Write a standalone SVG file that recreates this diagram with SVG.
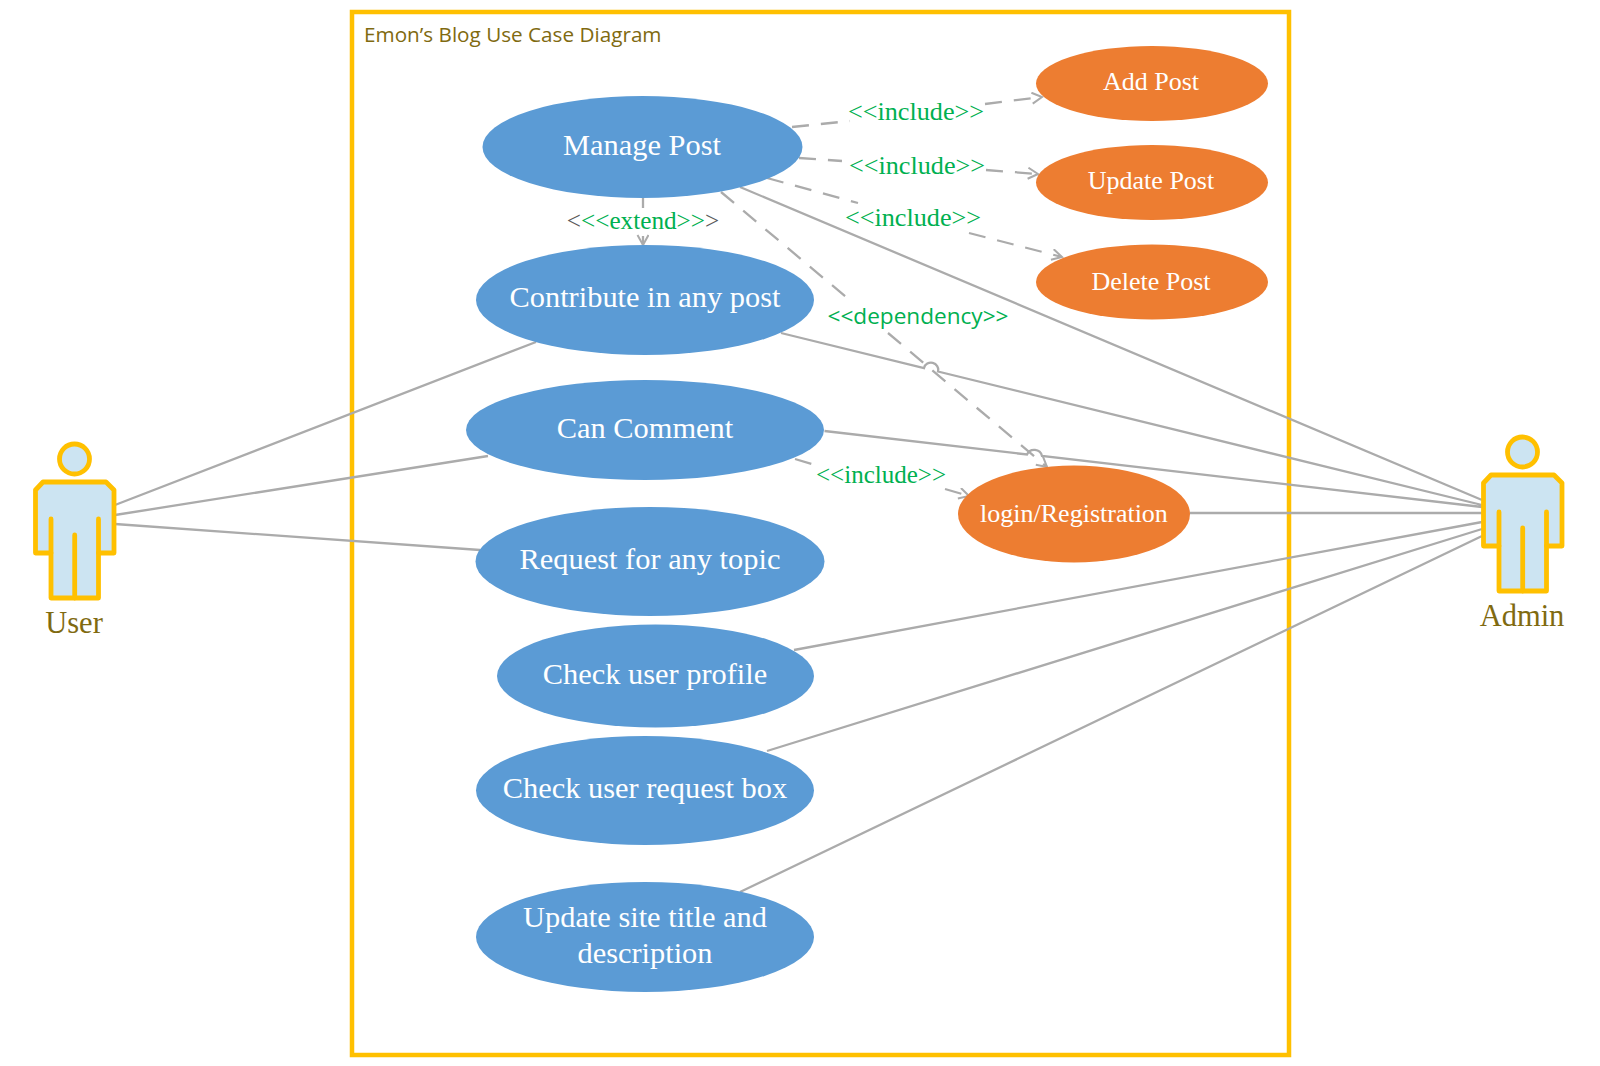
<svg xmlns="http://www.w3.org/2000/svg" width="1600" height="1066" viewBox="0 0 1600 1066">
<style>
.blue{fill:#5B9BD5}.org{fill:#ED7D31}
.ut{font-family:"Liberation Serif",serif;font-size:30.4px;fill:#fff;text-anchor:middle}
.ot{font-family:"Liberation Serif",serif;font-size:26px;fill:#fff;text-anchor:middle}
.lbl{font-family:"Liberation Serif",serif;font-size:26.2px;fill:#00B050;text-anchor:middle}
.act{font-family:"Liberation Serif",serif;font-size:30.5px;fill:#806A10;text-anchor:middle}
.ln{fill:none;stroke:#ABABAB;stroke-width:2.3}
.ds{fill:none;stroke:#ABABAB;stroke-width:2.3;stroke-dasharray:17 12}
.fig{fill:#CCE4F2;stroke:#FFC000;stroke-width:4.8;stroke-linejoin:round;stroke-linecap:round}
</style>
<defs>
<marker id="arr" markerWidth="14" markerHeight="14" refX="11" refY="6" orient="auto" markerUnits="userSpaceOnUse"><path d="M1,0.5 L11,6 L1,11.5" fill="none" stroke="#ABABAB" stroke-width="2"/></marker>
<g id="person"><circle cx="74.5" cy="459" r="15" class="fig"/><path class="fig" d="M43,482 L106,482 L114,490 L114,553 L98.5,553 L98.5,598 L51,598 L51,553 L35.5,553 L35.5,490 Z"/><path class="fig" d="M51,519 V553 M98.5,519 V553 M74.7,535 V598" fill="none"/></g>
</defs>
<rect width="1600" height="1066" fill="#fff"/>
<g id="boundary"><rect x="352" y="12" width="937" height="1043" fill="none" stroke="#FFC000" stroke-width="4.5"/><text x="364" y="42" font-family="Open Sans,sans-serif" font-size="20.7" fill="#806A10">Emon’s Blog Use Case Diagram</text></g>
<g id="connectors">
<path class="ln" d="M115,505 L536,342 M115,515 L488,456 M115,524 L480,550"/>
<path class="ln" d="M740,187 L1482,500 M781,333 L924,368 A7,7 0 0 1 938,371.5 L1482,505 M824.5,431 L1027,454.5 A8,8 0 0 1 1042,456 L1482,507 M1190,513 H1482 M794,650 L1482,522 M767,751 L1482,529 M740,892 L1482,536"/>
<path class="ds" d="M792,127 L850,121"/><path class="ds" d="M985,104 L1042,97" marker-end="url(#arr)"/>
<path class="ds" d="M799,158 L842,161"/><path class="ds" d="M986,170 L1038,174" marker-end="url(#arr)"/>
<path class="ds" d="M767,178 L858,203"/><path class="ds" d="M969,233 L1062,257" marker-end="url(#arr)"/>
<path class="ds" d="M643,198 V208"/><path class="ln" d="M643,236 V245" marker-end="url(#arr)"/>
<path class="ds" d="M721,192 L852,302"/><path class="ds" d="M888,333 L1047,467" marker-end="url(#arr)"/>
<path class="ds" d="M795,459 L812,464"/><path class="ds" d="M945,489 L969,496" marker-end="url(#arr)"/>
</g>
<g id="user"><use href="#person"/><text class="act" x="74" y="633">User</text></g>
<g id="admin"><use href="#person" x="1448" y="-7"/><text class="act" x="1522" y="626">Admin</text></g>
<g id="manage-post"><ellipse class="blue" cx="642.5" cy="147" rx="160" ry="51"/><text class="ut" x="642" y="155">Manage Post</text></g>
<g id="contribute"><ellipse class="blue" cx="645" cy="300" rx="169" ry="55"/><text class="ut" x="645" y="307">Contribute in any post</text></g>
<g id="comment"><ellipse class="blue" cx="645" cy="430" rx="179" ry="50"/><text class="ut" x="645" y="438">Can Comment</text></g>
<g id="request"><ellipse class="blue" cx="650" cy="561.5" rx="174.5" ry="54.5"/><text class="ut" x="650" y="569">Request for any topic</text></g>
<g id="profile"><ellipse class="blue" cx="655.5" cy="676" rx="158.5" ry="51.5"/><text class="ut" x="655" y="684">Check user profile</text></g>
<g id="request-box"><ellipse class="blue" cx="645" cy="790.5" rx="169" ry="54.5"/><text class="ut" x="645" y="798">Check user request box</text></g>
<g id="site-title"><ellipse class="blue" cx="645" cy="937" rx="169" ry="55"/><text class="ut" x="645" y="927">Update site title and</text><text class="ut" x="645" y="963">description</text></g>
<g id="add-post"><ellipse class="org" cx="1152" cy="83.5" rx="116" ry="37.5"/><text class="ot" x="1151" y="90">Add Post</text></g>
<g id="update-post"><ellipse class="org" cx="1152" cy="182.5" rx="116" ry="37.5"/><text class="ot" x="1151" y="189">Update Post</text></g>
<g id="delete-post"><ellipse class="org" cx="1152" cy="282" rx="116" ry="37.5"/><text class="ot" x="1151" y="290">Delete Post</text></g>
<g id="login"><ellipse class="org" cx="1074" cy="514" rx="116" ry="48.5"/><text class="ot" x="1074" y="522">login/Registration</text></g>
<g id="labels">
<text class="lbl" x="916" y="120">&lt;&lt;include&gt;&gt;</text>
<text class="lbl" x="917" y="174">&lt;&lt;include&gt;&gt;</text>
<text class="lbl" x="913" y="226">&lt;&lt;include&gt;&gt;</text>
<text class="lbl" x="881" y="483" style="font-size:25px">&lt;&lt;include&gt;&gt;</text>
<text class="lbl" x="643" y="229" style="font-size:25.2px"><tspan fill="#595959">&lt;</tspan>&lt;&lt;extend&gt;&gt;<tspan fill="#595959">&gt;</tspan></text>
<text x="918" y="324" font-family="Open Sans,sans-serif" font-size="22.6" fill="#00B050" text-anchor="middle">&lt;&lt;dependency&gt;&gt;</text>
</g>
</svg>
